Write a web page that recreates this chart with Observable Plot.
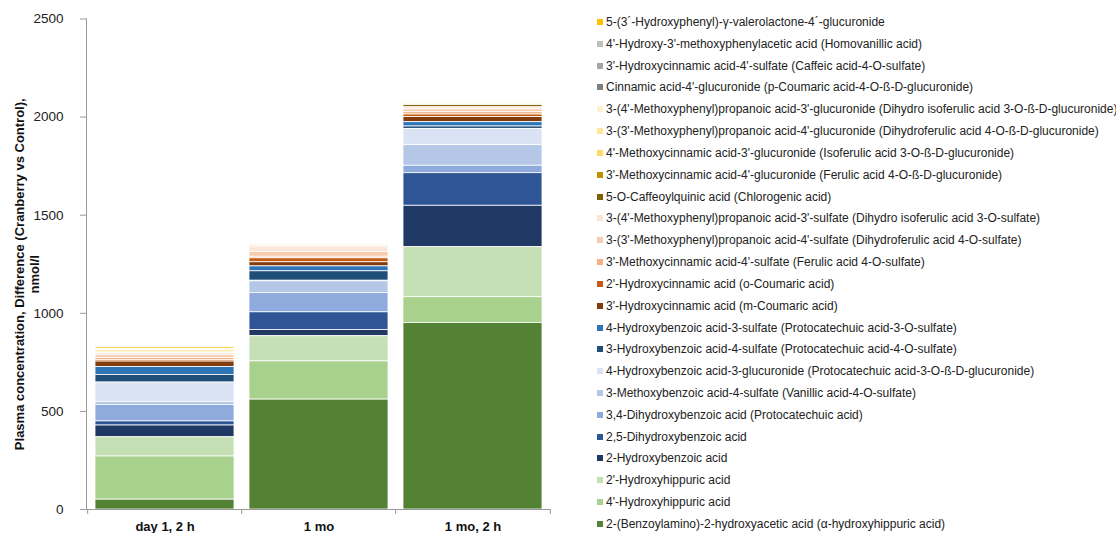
<!DOCTYPE html>
<html>
<head>
<meta charset="utf-8">
<script src="https://cdn.jsdelivr.net/npm/d3@7"></script>
<script src="https://cdn.jsdelivr.net/npm/@observablehq/plot@0.6"></script>
<style>
  html, body { margin: 0; padding: 0; background: #fff; }
  #wrap { position: relative; width: 1116px; height: 533px; overflow: hidden; font-family: "Liberation Sans", Arial, sans-serif; }
  #chart { position: absolute; left: 0; top: 0; }
  #legend { position: absolute; left: 597px; top: 11px; }
  .row { display: flex; align-items: center; height: 21.83px; font-size: 12px; color: #222; white-space: nowrap; }
  .sw { width: 6px; height: 6px; margin-right: 3px; flex: none; }
</style>
</head>
<body>
<div id="wrap"><div id="chart"></div><div id="legend"></div></div>
<script>
// Compounds in legend order (top of legend = top of stack)
const compounds = [
  "5-(3´-Hydroxyphenyl)-γ-valerolactone-4´-glucuronide",
  "4'-Hydroxy-3'-methoxyphenylacetic acid (Homovanillic acid)",
  "3'-Hydroxycinnamic acid-4'-sulfate (Caffeic acid-4-O-sulfate)",
  "Cinnamic acid-4'-glucuronide (p-Coumaric acid-4-O-ß-D-glucuronide)",
  "3-(4'-Methoxyphenyl)propanoic acid-3'-glucuronide (Dihydro isoferulic acid 3-O-ß-D-glucuronide)",
  "3-(3'-Methoxyphenyl)propanoic acid-4'-glucuronide (Dihydroferulic acid 4-O-ß-D-glucuronide)",
  "4'-Methoxycinnamic acid-3'-glucuronide (Isoferulic acid 3-O-ß-D-glucuronide)",
  "3'-Methoxycinnamic acid-4'-glucuronide (Ferulic acid 4-O-ß-D-glucuronide)",
  "5-O-Caffeoylquinic acid (Chlorogenic acid)",
  "3-(4'-Methoxyphenyl)propanoic acid-3'-sulfate (Dihydro isoferulic acid 3-O-sulfate)",
  "3-(3'-Methoxyphenyl)propanoic acid-4'-sulfate (Dihydroferulic acid 4-O-sulfate)",
  "3'-Methoxycinnamic acid-4'-sulfate (Ferulic acid 4-O-sulfate)",
  "2'-Hydroxycinnamic acid (o-Coumaric acid)",
  "3'-Hydroxycinnamic acid (m-Coumaric acid)",
  "4-Hydroxybenzoic acid-3-sulfate (Protocatechuic acid-3-O-sulfate)",
  "3-Hydroxybenzoic acid-4-sulfate (Protocatechuic acid-4-O-sulfate)",
  "4-Hydroxybenzoic acid-3-glucuronide (Protocatechuic acid-3-O-ß-D-glucuronide)",
  "3-Methoxybenzoic acid-4-sulfate (Vanillic acid-4-O-sulfate)",
  "3,4-Dihydroxybenzoic acid (Protocatechuic acid)",
  "2,5-Dihydroxybenzoic acid",
  "2-Hydroxybenzoic acid",
  "2'-Hydroxyhippuric acid",
  "4'-Hydroxyhippuric acid",
  "2-(Benzoylamino)-2-hydroxyacetic acid (α-hydroxyhippuric acid)"
];
const colors = [
  "#FFC000", "#BFBFBF", "#A5A5A5", "#7F7F7F",
  "#FFF2CC", "#FFE699", "#FFD966", "#BF9000", "#7F6000",
  "#FBE5D6", "#F8CBAD", "#F4B183", "#C55A11", "#843C0C",
  "#2E75B6", "#1F4E79", "#DAE3F3", "#B4C7E7", "#8FAADC", "#2F5597", "#1F3864",
  "#C5E0B4", "#A9D18E", "#548235"
];
const timepoints = ["day 1, 2 h", "1 mo", "1 mo, 2 h"];
// values in nmol/l, same order as compounds
const day1_2h = [8, 0, 0, 0, 6, 8, 6, 2, 0, 10, 14, 10, 8, 28, 40, 39, 99, 15, 84, 21, 60, 98, 220, 50];
const mo1     = [2, 1, 1, 1, 1, 1, 1, 2, 3, 26, 25, 8, 20, 21, 25, 48, 3, 59, 99, 90, 32, 128, 195, 560];
const mo1_2h  = [3, 1, 1, 1, 6, 4, 3, 2, 11, 11, 14, 12, 13, 26, 22, 12, 83, 105, 38, 166, 211, 255, 132, 950];
const yTicks = [0, 500, 1000, 1500, 2000, 2500];
const yLabel = "Plasma concentration, Difference (Cranberry vs Control),\nnmol/l";

const series = [day1_2h, mo1, mo1_2h];
const data = [];
timepoints.forEach((t, ti) => {
  compounds.forEach((c, ci) => data.push({time: t, compound: c, value: series[ti][ci]}));
});
const stackOrder = compounds.slice().reverse();

const W = 580, ML = 86, MR = 30;
const step = (W - ML - MR) / 3;

const chart = Plot.plot({
  width: W, height: 533,
  marginLeft: ML, marginRight: MR, marginTop: 18.5, marginBottom: 24,
  style: {fontFamily: "'Liberation Sans', Arial, sans-serif", background: "white", color: "#222"},
  x: {domain: timepoints, paddingInner: 0.1, paddingOuter: 0.05, axis: null},
  y: {domain: [0, 2500], axis: null},
  color: {domain: compounds, range: colors},
  marks: [
    Plot.barY(data, Plot.stackY({order: stackOrder}, {x: "time", y: "value", z: "compound", fill: "compound", stroke: "white", strokeWidth: 0.8})),
    Plot.frame({anchor: "left", stroke: "#999"}),
    Plot.ruleY([0], {stroke: "#999"}),
    Plot.axisY(yTicks, {tickSize: 6, tickPadding: 17, fontSize: 13.5, tickFormat: d3.format("d"), stroke: "#999", fill: "#222", label: null}),
    Plot.axisX({tickSize: 0, tickPadding: 12, fontSize: 13, fontWeight: "bold", fill: "#111", label: null}),
    Plot.axisX({tickSize: 5, text: null, stroke: "#999", dx: -step / 2, label: null}),
    Plot.axisX([timepoints[2]], {tickSize: 5, text: null, stroke: "#999", dx: step / 2, label: null}),
    Plot.text([yLabel], {frameAnchor: "left", rotate: -90, dx: -60, dy: 10, fontSize: 13, lineHeight: 1.15, fontWeight: "bold", lineAnchor: "middle", textAnchor: "middle", fill: "#111"})
  ]
});
document.getElementById("chart").appendChild(chart);

const legend = document.getElementById("legend");
compounds.forEach((c, i) => {
  const row = document.createElement("div");
  row.className = "row";
  const sw = document.createElement("span");
  sw.className = "sw";
  sw.style.background = colors[i];
  const tx = document.createElement("span");
  tx.textContent = c;
  row.appendChild(sw); row.appendChild(tx);
  legend.appendChild(row);
});
</script>
</body>
</html>
